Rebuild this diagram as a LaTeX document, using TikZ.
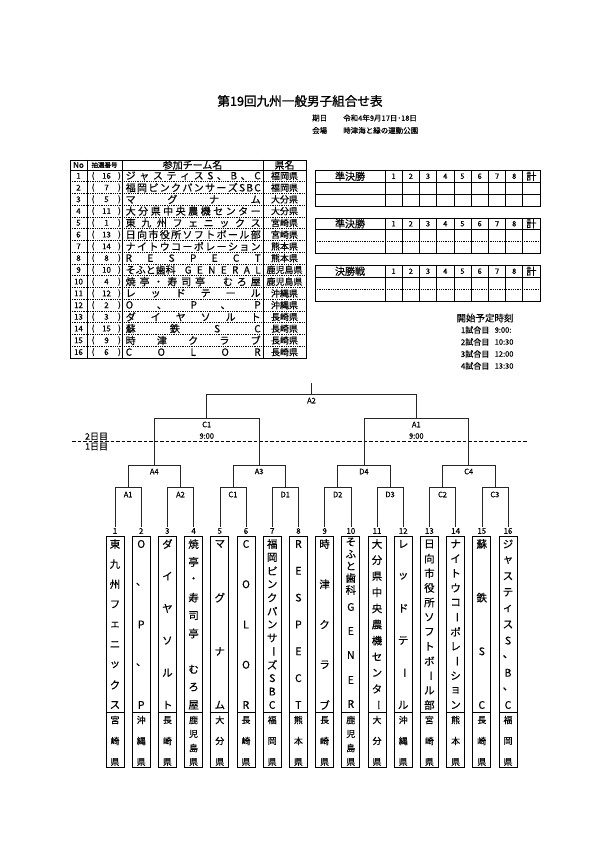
\documentclass[tikz,border=0pt]{standalone}
\usepackage{fontspec}
\setmainfont{Noto Sans CJK JP}[FakeBold=0.3]
\newfontfamily\titlefont{Noto Sans CJK JP}[FakeBold=1.2]
\usetikzlibrary{calc}
\newcommand\fs[1]{\fontsize{#1}{#1}\selectfont}
\newcommand\hspr[2]{\hbox to #1{\sprA#2\relax}}
\def\sprA#1{#1\sprB}
\def\sprB#1{\ifx\relax#1\else\hfil#1\expandafter\sprB\fi}
\newcommand\VL{\rotatebox[origin=c]{-90}{ー}}
\newcommand\trow[4]{%
  \pgfmathsetmacro\ry{170+(#1-0.5)*11.75}%
  \node[tno] (no#1) at (78.5,\ry) {#1};
  \node[tpar] at (93,\ry) {(};
  \node[tno] (dr#1) at (106.5,\ry) {#2};
  \node[tpar] at (119.5,\ry) {)};
  \node[tname] (nm#1) at (125.5,\ry) {#3};
  \node[tpref] (pf#1) at (284.5,\ry) {#4};}
\newcommand\vname[3]{%
  \pgfmathsetmacro\cx{115+(#1-1)*26.2}%
  \foreach \ch [count=\k] in {#3} {
    \pgfmathsetmacro\cy{544+(\k-1)*161/(#2-1)}
    \node[vch] at (\cx,\cy) {\ch};
  }}
\newcommand\vpref[3]{%
  \pgfmathsetmacro\cx{115+(#1-1)*26.2}%
  \foreach \ch [count=\k] in {#3} {
    \pgfmathsetmacro\cy{720+(\k-1)*42/(#2-1)}
    \node[vpf] at (\cx,\cy) {\ch};
  }}
\newcommand\stable[3]{%
  \draw[tl] (315,#1) rectangle (540,#1+35.5);
  \draw[tl] (315,#1+11.5) -- (540,#1+11.5);
  \draw[#3] (315,#1+23.5) -- (540,#1+23.5);
  \foreach \j in {0,...,8} \draw[tl] ({385+\j*17.22},#1) -- ({385+\j*17.22},#1+35.5);
  \node[shead] at (350,#1+5.75) {#2};
  \foreach \j in {1,...,8} \node[sdig] at ({385+(\j-0.5)*17.22},#1+5.75) {\j};
  \node[shead] at ({385+8.5*17.22},#1+5.75) {計};}
\begin{document}
\begin{tikzpicture}[x=1pt,y=-1pt,
  tl/.style={line width=0.75pt},
  dl/.style={line width=0.8pt, dash pattern=on 0.9pt off 0.9pt},
  bl/.style={line width=0.6pt, black!85},
  tno/.style={font=\fs{8}, inner sep=0pt},
  tpar/.style={font=\fs{8}, inner sep=0pt},
  tname/.style={font=\fs{10}, inner sep=0pt, anchor=west},
  tpref/.style={font=\fs{9}, inner sep=0pt},
  thead/.style={font=\fs{10}, inner sep=0pt},
  shead/.style={font=\fs{10}, inner sep=0pt},
  sdig/.style={font=\fs{7.5}, inner sep=0pt},
  vch/.style={font=\fs{10.5}, inner sep=0pt},
  vpf/.style={font=\fs{9}, inner sep=0pt},
  num/.style={font=\fs{8}, inner sep=0pt},
  blab/.style={font=\fs{7.5}, inner sep=0pt},
  small/.style={font=\fs{7.5}, inner sep=0pt},
  tim/.style={font=\fs{8}, inner sep=0pt}]
\useasboundingbox (0,0) rectangle (595,842);
\fill[white] (0,0) rectangle (595,842);

% title
\node[font=\fs{12.6}\titlefont, inner sep=0pt] (title) at (300,101) {第19回九州一般男子組合せ表};
\node[small, anchor=west] (kijitsu) at (312,118) {期日};
\node[small, anchor=west] (date) at (343,118) {令和4年9月17日･18日};
\node[small, anchor=west] (kaijo) at (312,130.5) {会場};
\node[small, anchor=west] (venue) at (343,130.5) {時津海と緑の運動公園};

% entry table
\draw[tl] (70,160) rectangle (306,358);
\draw[tl] (70,170) -- (306,170);
\foreach \xx in {87,122,263} \draw[tl] (\xx,160) -- (\xx,358);
\foreach \k in {1,...,15} \draw[dl] (70,{170+\k*11.75}) -- (306,{170+\k*11.75});
\node[tno] (hno) at (78.5,165) {No};
\node[font=\fs{6.5}, inner sep=0pt] (hdraw) at (104.5,165) {抽選番号};
\node[thead] (hname) at (192.5,165) {参加チーム名};
\node[thead] (hpref) at (284.5,165) {県名};
\trow{1}{16}{\hspr{135pt}{ジャスティスS、B、C}}{福岡県}
\trow{2}{7}{\hspr{135pt}{福岡ピンクパンサーズSBC}}{福岡県}
\trow{3}{5}{\hspr{135pt}{マグナム}}{大分県}
\trow{4}{11}{\hspr{135pt}{大分県中央農機センター}}{大分県}
\trow{5}{1}{\hspr{135pt}{東九州フェニックス}}{宮崎県}
\trow{6}{13}{\hspr{135pt}{日向市役所ソフトボール部}}{宮崎県}
\trow{7}{14}{\hspr{135pt}{ナイトウコーポレーション}}{熊本県}
\trow{8}{8}{\hspr{135pt}{RESPECT}}{熊本県}
\trow{9}{10}{\hbox to 135pt{そふと歯科\hfil\hspr{76pt}{GENERAL}}}{鹿児島県}
\trow{10}{4}{\hspr{135pt}{焼亭・寿司亭　むろ屋}}{鹿児島県}
\trow{11}{12}{\hspr{135pt}{レッドテール}}{沖縄県}
\trow{12}{2}{\hspr{135pt}{O、P、P}}{沖縄県}
\trow{13}{3}{\hspr{135pt}{ダイヤソルト}}{長崎県}
\trow{14}{15}{\hspr{135pt}{蘇鉄SC}}{長崎県}
\trow{15}{9}{\hspr{135pt}{時津クラブ}}{長崎県}
\trow{16}{6}{\hspr{135pt}{COLOR}}{長崎県}

% score tables
\stable{170.5}{準決勝}{tl}
\stable{218}{準決勝}{dl}
\stable{265.5}{決勝戦}{dl}

% start times
\node[font=\fs{9.5}, inner sep=0pt] (sthead) at (485,318) {開始予定時刻};
\foreach \d/\tt/\yy in {1/9:00:/330, 2/10:30/342, 3/12:00/354, 4/13:30/366} {
  \node[tim, anchor=east] (g\d) at (489.5,\yy) {\d 試合目};
  \node[font=\fs{7.5}, inner sep=0pt, anchor=west] (t\d) at (494.5,\yy) {\tt};
}

% day divider
\draw[line width=0.9pt, dash pattern=on 3.5pt off 2pt] (72,441) -- (527,441);
\node[font=\fs{9}, inner sep=0pt] (day2) at (96.5,436.5) {2日目};
\node[font=\fs{9}, inner sep=0pt] (day1) at (96.5,446.5) {1日目};

% team boxes and numbers
\foreach \i in {1,...,16} {
  \pgfmathsetmacro\xx{115+(\i-1)*26.2}
  \coordinate (t\i) at (\xx,526.5);
  \coordinate (r\i) at (\xx,487);
  \node[num] (n\i) at (\xx,531) {\i};
  \draw[tl] (\xx-9,536) rectangle (\xx+9,767);
  \draw[tl] (\xx-9,712.5) -- (\xx+9,712.5);
}
% bracket round 1
\foreach \j/\lab in {1/A1,2/A2,3/C1,4/D1,5/D2,6/D3,7/C2,8/C3} {
  \pgfmathtruncatemacro\a{2*\j-1}
  \pgfmathtruncatemacro\b{2*\j}
  \draw[bl] (t\a) -- (r\a) -- (r\b) -- (t\b);
  \coordinate (p\j) at ($(r\a)!0.5!(r\b)$);
  \coordinate (pu\j) at ($(p\j)+(0,-22)$);
  \draw[bl] (p\j) -- (pu\j);
  \node[blab] (l1\j) at ($(p\j)+(0,7.5)$) {\lab};
}
% round 2
\foreach \m/\lab in {1/A4,2/A3,3/D4,4/C4} {
  \pgfmathtruncatemacro\a{2*\m-1}
  \pgfmathtruncatemacro\b{2*\m}
  \draw[bl] (pu\a) -- (pu\b);
  \coordinate (q\m) at ($(pu\a)!0.5!(pu\b)$);
  \coordinate (qu\m) at ($(q\m)+(0,-47)$);
  \draw[bl] (q\m) -- (qu\m);
  \node[blab] (l2\m) at ($(q\m)+(0,6.5)$) {\lab};
}
% round 3
\draw[bl] (qu1) -- (qu2);
\draw[bl] (qu3) -- (qu4);
\coordinate (s1) at ($(qu1)!0.5!(qu2)$);
\coordinate (s2) at ($(qu3)!0.5!(qu4)$);
\coordinate (su1) at ($(s1)+(0,-24)$);
\coordinate (su2) at ($(s2)+(0,-24)$);
\draw[bl] (s1) -- (su1);
\draw[bl] (s2) -- (su2);
\node[blab] (l31) at ($(s1)+(0,6.5)$) {C1};
\node[blab] (l31t) at ($(s1)+(0,18)$) {9:00};
\node[blab] (l32) at ($(s2)+(0,6.5)$) {A1};
\node[blab] (l32t) at ($(s2)+(0,18)$) {9:00};
% final
\draw[bl] (su1) -- (su2);
\coordinate (f) at ($(su1)!0.5!(su2)$);
\coordinate (fu) at ($(f)+(0,-11.5)$);
\draw[bl] (f) -- (fu);
\node[blab] (l4) at ($(f)+(0,6.5)$) {A2};

% vertical names
\vname{1}{9}{東,九,州,フ,ェ,ニ,ッ,ク,ス}
\vname{2}{5}{O,、,P,、,P}
\vname{3}{6}{ダ,イ,ヤ,ソ,ル,ト}
\vname{4}{10}{焼,亭,・,寿,司,亭,{},む,ろ,屋}
\vname{5}{4}{マ,グ,ナ,ム}
\vname{6}{5}{C,O,L,O,R}
\vname{7}{13}{福,岡,ピ,ン,ク,パ,ン,サ,\VL,ズ,S,B,C}
\vname{8}{7}{R,E,S,P,E,C,T}
\vname{9}{5}{時,津,ク,ラ,ブ}
\foreach \ch/\cy in {そ/542,ふ/554,と/566,歯/578,科/590,G/607,E/631,N/655,E/680,R/704}
  \node[vch] at ({115+9*26.2},\cy) {\ch};
\vname{11}{11}{大,分,県,中,央,農,機,セ,ン,タ,\VL}
\vname{12}{6}{レ,ッ,ド,テ,\VL,ル}
\vname{13}{12}{日,向,市,役,所,ソ,フ,ト,ボ,\VL,ル,部}
\vname{14}{12}{ナ,イ,ト,ウ,コ,\VL,ポ,レ,\VL,シ,ョ,ン}
\vname{15}{4}{蘇,鉄,S,C}
\vname{16}{11}{ジ,ャ,ス,テ,ィ,ス,S,、,B,、,C}
% prefectures
\vpref{1}{3}{宮,崎,県}
\vpref{2}{3}{沖,縄,県}
\vpref{3}{3}{長,崎,県}
\vpref{4}{4}{鹿,児,島,県}
\vpref{5}{3}{大,分,県}
\vpref{6}{3}{長,崎,県}
\vpref{7}{3}{福,岡,県}
\vpref{8}{3}{熊,本,県}
\vpref{9}{3}{長,崎,県}
\vpref{10}{4}{鹿,児,島,県}
\vpref{11}{3}{大,分,県}
\vpref{12}{3}{沖,縄,県}
\vpref{13}{3}{宮,崎,県}
\vpref{14}{3}{熊,本,県}
\vpref{15}{3}{長,崎,県}
\vpref{16}{3}{福,岡,県}
\end{tikzpicture}
\end{document}
